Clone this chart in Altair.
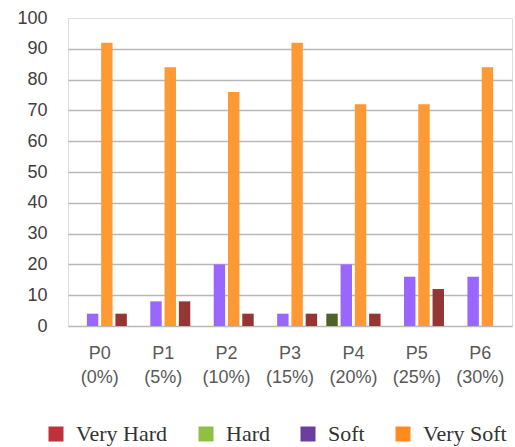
import altair as alt
import pandas as pd

categories = ["P0 (0%)", "P1 (5%)", "P2 (10%)", "P3 (15%)", "P4 (20%)", "P5 (25%)", "P6 (30%)"]
very_hard = [4, 8, 4, 4, 4, 12, 0]
hard = [0, 0, 0, 0, 4, 0, 0]
soft = [4, 8, 20, 4, 20, 16, 16]
very_soft = [92, 84, 76, 92, 72, 72, 84]

series_names = ["Very Hard", "Hard", "Soft", "Very Soft"]
offset_order = ["Hard", "Soft", "Very Soft", "Very Hard"]
bar_colors = ["#943634", "#4f6228", "#9966ff", "#ff9933"]
legend_colors = ["#c0303a", "#8fbf45", "#6b3fa0", "#ff8a1f"]

rows = []
for name, vals in zip(series_names, [very_hard, hard, soft, very_soft]):
    for c, v in zip(categories, vals):
        rows.append({"cat": c, "series": name, "value": v})
df = pd.DataFrame(rows)

x_axis = alt.Axis(title=None, domain=False, ticks=False, grid=False, labelAngle=0,
                  domainOpacity=0, tickOpacity=0, gridOpacity=0,
                  labelExpr="split(datum.label, ' ')",
                  labelFont="Liberation Sans", labelFontSize=18,
                  labelColor="#595959", labelPadding=18, labelLineHeight=24)
y_axis = alt.Axis(title=None, domain=False, ticks=False,
                  domainOpacity=0, tickOpacity=0,
                  values=list(range(0, 101, 10)), labelOverlap=False,
                  labelFont="Liberation Sans", labelFontSize=18,
                  labelColor="#404040", labelPadding=21,
                  gridColor="#b8b8b8", gridWidth=1.5,
                  gridOpacity=alt.expr("datum.value == 100 ? 0 : 1"))
x_scale = alt.Scale(paddingInner=0.1, paddingOuter=0.05)
y_scale = alt.Scale(domain=[0, 100], nice=False)

bars = alt.Chart(df).mark_bar().encode(
    x=alt.X("cat:N", sort=categories, scale=x_scale, axis=x_axis),
    y=alt.Y("value:Q", scale=y_scale, axis=y_axis),
    xOffset=alt.XOffset("series:N", sort=offset_order,
                        scale=alt.Scale(paddingInner=0.2, paddingOuter=0.1)),
    color=alt.Color("series:N", scale=alt.Scale(domain=series_names, range=bar_colors),
                    legend=None),
)

legend_layer = alt.Chart(df).mark_square(opacity=0).encode(
    x=alt.X("cat:N", sort=categories, scale=x_scale, axis=x_axis),
    y=alt.Y("value:Q", scale=y_scale, axis=y_axis),
    color=alt.Color("series:N",
                    scale=alt.Scale(domain=series_names, range=legend_colors),
                    legend=alt.Legend(title=None, orient="none", direction="horizontal",
                                      columns=4, legendX=-23, legendY=405,
                                      symbolType="square", symbolSize=225,
                                      symbolOpacity=1, symbolStrokeWidth=0,
                                      labelFont="Liberation Serif",
                                      labelFontSize=22,
                                      labelColor="#333333", labelOffset=9,
                                      columnPadding=27)),
)

chart = alt.layer(bars, legend_layer).resolve_scale(color="independent").properties(
    width=444, height=308,
    autosize=alt.AutoSizeParams(type="none"),
    padding={"left": 68, "top": 18, "right": 3, "bottom": 121},
).configure_view(strokeWidth=0, stroke="transparent").configure_axis(
    domain=False, domainOpacity=0
).configure_axisX(grid=False).configure_legend(
    labelFont="Liberation Serif"
).configure(background="white")

chart.save("out.html", embed_options={"renderer": "svg", "actions": False})
